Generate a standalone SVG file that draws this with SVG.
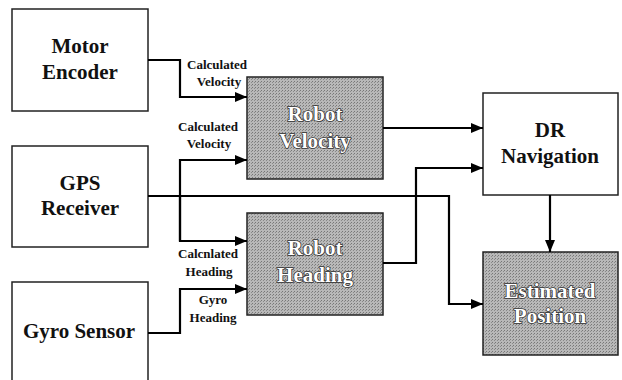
<svg xmlns="http://www.w3.org/2000/svg" width="622" height="380" viewBox="0 0 622 380">
<style>
.box{fill:#fff;stroke:#222;stroke-width:1.5}
.gbox{stroke:#222;stroke-width:1.5}
.t{font-family:"Liberation Serif","Times New Roman",serif;font-weight:bold;font-size:21px;fill:#111;text-anchor:middle}
.w{font-family:"Liberation Serif","Times New Roman",serif;font-weight:bold;font-size:21px;fill:#fff;stroke:#333;stroke-width:1.6;paint-order:stroke;text-anchor:middle}
.s{font-family:"Liberation Serif","Times New Roman",serif;font-weight:bold;font-size:13px;fill:#111;text-anchor:middle}
.c{fill:none;stroke:#000;stroke-width:2.2}
</style>
<defs>
<marker id="ar" viewBox="0 0 12 10" refX="12" refY="5" markerWidth="12" markerHeight="10" markerUnits="userSpaceOnUse" orient="auto">
<path d="M0,0 L12,5 L0,10 Z" fill="#000"/>
</marker>
<pattern id="dots" width="3" height="3" patternUnits="userSpaceOnUse">
<rect width="3" height="3" fill="#b8b8b8"/>
<rect width="1" height="1" fill="#777"/>
<rect x="2" y="1" width="1" height="1" fill="#8a8a8a"/>
</pattern>
</defs>
<g id="motor-encoder">
<rect class="box" x="12" y="9" width="136" height="102"/>
<text class="t" x="80" y="53">Motor</text>
<text class="t" x="80" y="79">Encoder</text>
</g>
<g id="gps-receiver">
<rect class="box" x="12" y="146" width="136" height="101"/>
<text class="t" x="80" y="190">GPS</text>
<text class="t" x="80" y="215">Receiver</text>
</g>
<g id="gyro-sensor">
<rect class="box" x="12" y="282" width="136" height="102"/>
<text class="t" x="79" y="338">Gyro Sensor</text>
</g>
<g id="robot-velocity">
<rect class="gbox" x="247" y="77" width="136" height="102" fill="url(#dots)"/>
<text class="w" x="315" y="121">Robot</text>
<text class="w" x="315" y="148">Velocity</text>
</g>
<g id="robot-heading">
<rect class="gbox" x="247" y="213" width="136" height="102" fill="url(#dots)"/>
<text class="w" x="315" y="255">Robot</text>
<text class="w" x="315" y="282">Heading</text>
</g>
<g id="dr-navigation">
<rect class="box" x="483" y="93" width="135" height="102"/>
<text class="t" x="550" y="137">DR</text>
<text class="t" x="550" y="163">Navigation</text>
</g>
<g id="estimated-position">
<rect class="gbox" x="483" y="252" width="135" height="103" fill="url(#dots)"/>
<text class="w" x="550" y="298">Estimated</text>
<text class="w" x="550" y="323">Position</text>
</g>
<g id="connectors">
<polyline class="c" points="148,60 180,60 180,97 247,97" marker-end="url(#ar)"/>
<polyline class="c" points="148,196 449,196 449,304 483,304" marker-end="url(#ar)"/>
<polyline class="c" points="180,241 180,160 247,160" marker-end="url(#ar)"/>
<polyline class="c" points="180,196 180,241 247,241" marker-end="url(#ar)"/>
<polyline class="c" points="383,128 483,128" marker-end="url(#ar)"/>
<polyline class="c" points="383,263 416,263 416,168 483,168" marker-end="url(#ar)"/>
<polyline class="c" points="148,333 180,333 180,289 247,289" marker-end="url(#ar)"/>
<polyline class="c" points="550,195 550,252" marker-end="url(#ar)"/>
</g>
<g id="labels">
<text class="s" x="217" y="69">Calculated</text>
<text class="s" x="219" y="86">Velocity</text>
<text class="s" x="208" y="131">Calculated</text>
<text class="s" x="209" y="148">Velocity</text>
<text class="s" x="208" y="258">Calcnlated</text>
<text class="s" x="209" y="276">Heading</text>
<text class="s" x="213" y="304">Gyro</text>
<text class="s" x="213" y="322">Heading</text>
</g>
</svg>
